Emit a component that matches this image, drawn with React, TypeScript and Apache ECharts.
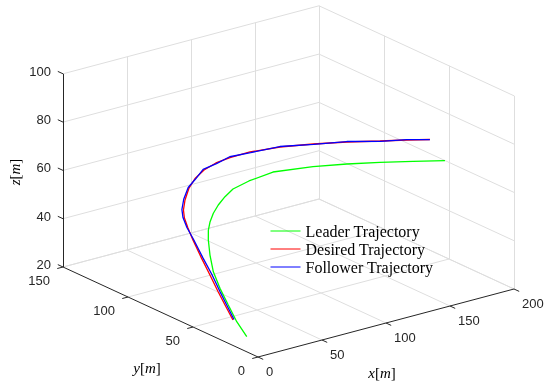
import React, { useEffect, useRef } from 'react';
import * as echarts from 'echarts';

// Axis ticks
const X_TICKS = [0, 50, 100, 150, 200];
const Y_TICKS = [0, 50, 100, 150];
const Z_TICKS = [20, 40, 60, 80, 100];

// Leader trajectory (x, y, z in metres)
const LEADER_X = [10, 10, 10, 10, 10, 15.7, 20.6, 24.9, 29.5, 35.5, 42.4, 51.3, 60.9, 74.9, 95.9, 122.0, 141.7, 159.9, 177.4, 193.9];
const LEADER_Y = [18.5, 26.2, 32.7, 39.1, 44.2, 52.4, 58.5, 62.7, 65.9, 69.3, 72.3, 75.9, 79.2, 80.7, 82.9, 77.8, 71.1, 63.6, 55.4, 47.1];
const LEADER_Z = [22.4, 26.7, 32.0, 37.3, 42.9, 47.0, 51.0, 53.5, 55.5, 57.3, 59.0, 60.3, 61.3, 62.3, 62.5, 62.3, 62.3, 62.3, 62.3, 62.3];

// Desired trajectory
const DESIRED_X = [10, 10, 10, 10, 10, 10, 11.8, 13.5, 15.9, 22.0, 31.6, 41.2, 51.7, 62.8, 73.8, 88.4, 108.1, 127.7, 146.7, 164.1, 178.6, 190.5];
const DESIRED_Y = [29.1, 35.2, 40.6, 46.8, 53.3, 59.9, 65.5, 69.9, 73.0, 77.8, 84.2, 89.0, 92.4, 94.2, 94.2, 93.2, 89.5, 83.4, 76.0, 67.8, 61.2, 55.3];
const DESIRED_Z = [26.7, 31.4, 35.6, 40.9, 46.3, 52.2, 55.5, 58.3, 60.5, 62.6, 64.6, 66.0, 67.2, 68.1, 68.8, 69.3, 69.5, 69.5, 69.5, 69.5, 69.5, 69.5];

// Follower trajectory
const FOLLOWER_X = [10.3, 10.4, 10.5, 10.6, 10.4, 10.2, 11.5, 13.0, 15.4, 21.6, 31.3, 41.0, 51.5, 62.9, 74.0, 88.5, 108.3, 127.8, 146.8, 164.2, 178.7, 190.4];
const FOLLOWER_Y = [28.6, 34.4, 39.7, 45.8, 52.7, 59.6, 66.0, 70.5, 73.7, 78.4, 84.5, 88.6, 92.9, 93.9, 94.6, 92.8, 89.8, 83.1, 76.3, 67.5, 61.5, 55.3];
const FOLLOWER_Z = [27.0, 31.6, 35.9, 41.2, 46.6, 52.4, 55.6, 58.4, 60.6, 62.8, 64.8, 65.8, 67.4, 67.9, 69.0, 69.1, 69.6, 69.4, 69.6, 69.4, 69.6, 69.5];

const SERIES_NAMES = ['Leader Trajectory', 'Desired Trajectory', 'Follower Trajectory'];
const SERIES_COLORS = ['#00ff00', '#ff0000', '#0000ff'];

// Orthographic view: screen-plane basis vectors of the 3D axes
const VIEW = { ox: 258, oy: 357, xx: 1.28, xy: -0.34, yx: -1.3, yy: -0.6, zy: -2.415 };

function proj(x: number, y: number, z: number): [number, number] {
  const z0 = Z_TICKS[0];
  return [
    VIEW.ox + VIEW.xx * x + VIEW.yx * y,
    VIEW.oy + VIEW.xy * x + VIEW.yy * y + VIEW.zy * (z - z0),
  ];
}

const TICK_FONT = '13px "Liberation Sans", Arial, sans-serif';
const SERIF = '"Liberation Serif", "Times New Roman", serif';

export default function App() {
  const ref = useRef<HTMLDivElement>(null);
  useEffect(() => {
    const chart = echarts.init(ref.current!, null, { renderer: 'svg' });
    const x0 = X_TICKS[0], x1 = X_TICKS[X_TICKS.length - 1];
    const y0 = Y_TICKS[0], y1 = Y_TICKS[Y_TICKS.length - 1];
    const z0 = Z_TICKS[0], z1 = Z_TICKS[Z_TICKS.length - 1];

    const gridSegs: any[] = [];
    const seg = (a: [number, number, number], b: [number, number, number]) => ({
      coords: [proj(a[0], a[1], a[2]), proj(b[0], b[1], b[2])],
    });
    // floor
    X_TICKS.forEach((t) => { if (t !== x0) gridSegs.push(seg([t, y0, z0], [t, y1, z0])); });
    Y_TICKS.forEach((t) => { if (t !== y0) gridSegs.push(seg([x0, t, z0], [x1, t, z0])); });
    // back wall y = y1
    X_TICKS.forEach((t) => { if (t !== x0) gridSegs.push(seg([t, y1, z0], [t, y1, z1])); });
    Z_TICKS.forEach((t) => gridSegs.push(seg([x0, y1, t], [x1, y1, t])));
    // back wall x = x1
    Y_TICKS.forEach((t) => gridSegs.push(seg([x1, t, z0], [x1, t, z1])));
    Z_TICKS.forEach((t) => gridSegs.push(seg([x1, y0, t], [x1, y1, t])));

    const axisSegs: any[] = [];
    axisSegs.push(seg([x0, y0, z0], [x1, y0, z0]));
    axisSegs.push(seg([x0, y0, z0], [x0, y1, z0]));
    axisSegs.push(seg([x0, y1, z0], [x0, y1, z1]));
    X_TICKS.forEach((t) => axisSegs.push(seg([t, y0, z0], [t, y0 - 4, z0])));
    Y_TICKS.forEach((t) => axisSegs.push(seg([x0, t, z0], [x0 - 4.5, t, z0])));
    Z_TICKS.forEach((t) => axisSegs.push(seg([x0, y1, t], [x0, y1 + 4, t])));

    const track = (xs: number[], ys: number[], zs: number[]) => xs.map((x, i) => proj(x, ys[i], zs[i]));
    const tracks = [
      track(LEADER_X, LEADER_Y, LEADER_Z),
      track(DESIRED_X, DESIRED_Y, DESIRED_Z),
      track(FOLLOWER_X, FOLLOWER_Y, FOLLOWER_Z),
    ];

    chart.setOption({
      animation: false,
      grid: { left: 0, top: 0, width: 550, height: 388, containLabel: false },
      xAxis: { type: 'value', min: 0, max: 550, show: false },
      yAxis: { type: 'value', min: 0, max: 388, inverse: true, show: false },
      legend: {
        orient: 'vertical',
        left: 270,
        top: 223,
        padding: 0,
        itemWidth: 30,
        itemHeight: 14,
        itemGap: 2,
        data: SERIES_NAMES,
        itemStyle: { opacity: 0 },
        lineStyle: { width: 1 },
        textStyle: { fontFamily: SERIF, fontSize: 16, color: '#000' },
      },
      series: [
        {
          type: 'lines', coordinateSystem: 'cartesian2d', silent: true, z: 1,
          lineStyle: { color: '#dedede', width: 1, opacity: 1 }, data: gridSegs,
        },
        {
          type: 'lines', coordinateSystem: 'cartesian2d', silent: true, z: 1,
          lineStyle: { color: '#262626', width: 1, opacity: 1 }, data: axisSegs,
        },
        ...tracks.map((d, i) => ({
          type: 'line', name: SERIES_NAMES[i], data: d, symbol: 'none', z: 3 + i,
          lineStyle: { color: SERIES_COLORS[i], width: 1.3 }, itemStyle: { color: SERIES_COLORS[i] },
        })),
      ],
    });

    const toPx = (p: [number, number]) => chart.convertToPixel({ gridIndex: 0 }, p) as number[];
    const graphics: any[] = [];
    Z_TICKS.forEach((t) => {
      const p = toPx(proj(x0, y1, t));
      graphics.push({ type: 'text', x: p[0] - 12, y: p[1] - 2.5, style: { text: String(t), font: TICK_FONT, fill: '#262626', align: 'right', verticalAlign: 'middle' } });
    });
    X_TICKS.forEach((t) => {
      const p = toPx(proj(t, y0, z0));
      graphics.push({ type: 'text', x: p[0] + 8, y: p[1] + 14.5, style: { text: String(t), font: TICK_FONT, fill: '#262626', align: 'left', verticalAlign: 'middle' } });
    });
    Y_TICKS.forEach((t) => {
      const p = toPx(proj(x0, t, z0));
      graphics.push({ type: 'text', x: p[0] - 13, y: p[1] + 13.5, style: { text: String(t), font: TICK_FONT, fill: '#262626', align: 'right', verticalAlign: 'middle' } });
    });
    const rich = {
      i: { fontStyle: 'italic', fontFamily: SERIF, fontSize: 15, fill: '#000' },
      n: { fontStyle: 'normal', fontFamily: SERIF, fontSize: 15, fill: '#000' },
    };
    const title = (v: string) => `{i|${v}}{n|[}{i|m}{n|]}`;
    graphics.push({ type: 'text', x: 382, y: 373, style: { text: title('x'), rich, align: 'center', verticalAlign: 'middle' } });
    graphics.push({ type: 'text', x: 147, y: 368, style: { text: title('y'), rich, align: 'center', verticalAlign: 'middle' } });
    graphics.push({ type: 'text', x: 15, y: 172, rotation: Math.PI / 2, style: { text: title('z'), rich, align: 'center', verticalAlign: 'middle' } });
    chart.setOption({ graphic: graphics });

    return () => chart.dispose();
  }, []);
  return <div ref={ref} style={{ position: 'fixed', left: 0, top: 0, width: 550, height: 388 }} />;
}
